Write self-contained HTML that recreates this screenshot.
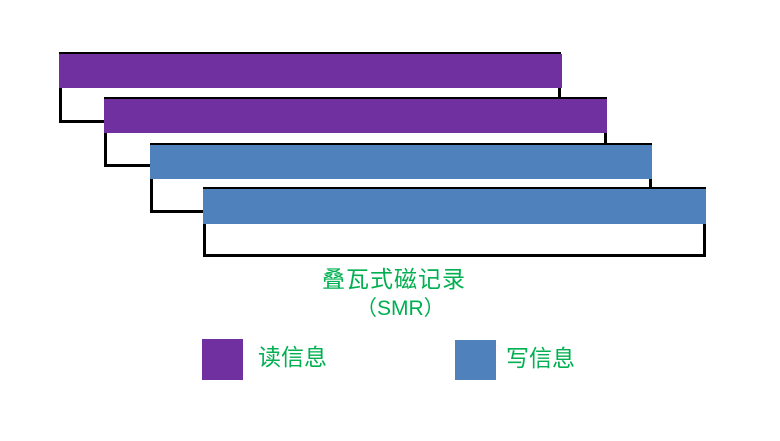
<!DOCTYPE html>
<html><head><meta charset="utf-8"><style>
body{margin:0;width:780px;height:441px;background:#fff;position:relative;overflow:hidden;font-family:"Liberation Sans","Noto Sans CJK SC",sans-serif}
.b{position:absolute;border:3px solid #000;background:#fff;box-sizing:border-box}
.f{position:absolute}
.t{position:absolute;color:#00B050;font-size:23px;line-height:1;white-space:nowrap}
</style></head><body>
<div class="b" style="left:59px;top:52px;width:502px;height:71px"></div>
<div class="f" style="left:59px;top:54px;width:503px;height:34px;background:#7030A0"></div>
<div class="b" style="left:104px;top:97px;width:503px;height:70px"></div>
<div class="f" style="left:104px;top:99px;width:503px;height:34px;background:#7030A0"></div>
<div class="b" style="left:150px;top:143px;width:502px;height:70px"></div>
<div class="f" style="left:150px;top:145px;width:502px;height:34px;background:#4F81BD"></div>
<div class="b" style="left:203px;top:187px;width:503px;height:70px"></div>
<div class="f" style="left:203px;top:189px;width:503px;height:35px;background:#4F81BD"></div>
<div class="t" style="left:322px;top:268px;letter-spacing:1px">叠瓦式磁记录</div>
<div class="t" style="left:356px;top:298px;font-size:21px">（SMR）</div>
<div class="f" style="left:202px;top:339px;width:41px;height:41px;background:#7030A0"></div>
<div class="t" style="left:258px;top:346px">读信息</div>
<div class="f" style="left:455px;top:340px;width:41px;height:40px;background:#4F81BD"></div>
<div class="t" style="left:506px;top:347px">写信息</div>
</body></html>
